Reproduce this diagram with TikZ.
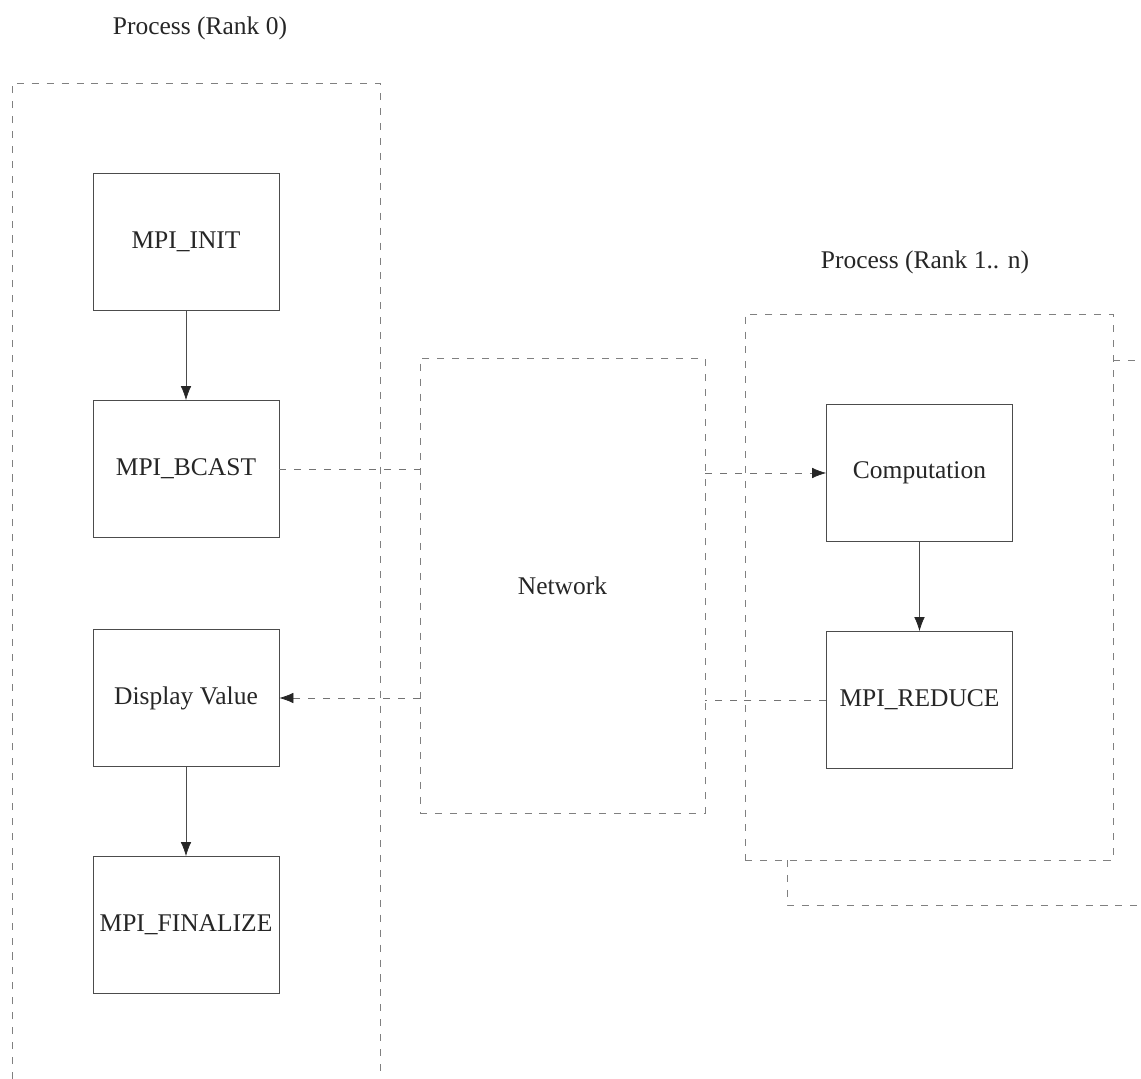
\documentclass[tikz,border=0pt]{standalone}
\usepackage{fontspec}
\setmainfont{Liberation Serif}
\usetikzlibrary{arrows.meta}
\begin{document}
\begin{tikzpicture}[
  font=\fontsize{14.5}{17}\selectfont,
  every node/.style={text=black!85},
  callbox/.style={draw=black!70, thin, fill=white, minimum width=3.72cm, minimum height=2.74cm},
  groupline/.style={draw=black!50, thin, dash pattern=on 4pt off 4.5pt},
  msg/.style={draw=black!55, thin, dash pattern=on 4pt off 4.5pt},
  tip/.style={-{Latex[length=8pt,width=6pt,color=black!85]}},
  flow/.style={draw=black!70, thin, tip}
]
\useasboundingbox (0,0) rectangle (22.82,21.58);
% process of rank 0
\node at (4.0,21.02) {Process (Rank 0)};
\draw[groupline] (0.24,0) -- (0.24,19.92) -- (7.6,19.92) -- (7.6,0);
\node[callbox] (init) at (3.72,16.75) {MPI\_INIT};
\node[callbox] (bcast) at (3.72,12.2) {MPI\_BCAST};
\node[callbox] (show) at (3.72,7.62) {Display Value};
\node[callbox] (final) at (3.72,3.08) {MPI\_FINALIZE};
\draw[flow] (init) -- (bcast);
\draw[flow] (show) -- (final);
% network
\node[groupline, minimum width=5.7cm, minimum height=9.1cm] (net) at (11.25,9.87) {Network};
% processes of rank 1..n
\node at (18.5,16.34) {Process (Rank 1.. n)};
\draw[groupline] (15.74,4.38) -- (15.74,3.48) -- (22.9,3.48);
\draw[groupline] (22.26,14.38) -- (22.9,14.38);
\node[groupline, fill=white, minimum width=7.36cm, minimum height=10.92cm] (rank) at (18.58,9.84) {};
\node[callbox] (comp) at (18.39,12.12) {Computation};
\node[callbox] (reduce) at (18.39,7.58) {MPI\_REDUCE};
\draw[flow] (comp) -- (reduce);
% messages
\draw[msg] (bcast.east) -- (bcast.east -| net.west);
\draw[msg, tip] (comp.west -| net.east) -- (comp.west);
\draw[msg] (reduce.west) -- (reduce.west -| net.east);
\draw[msg, tip] (show.east -| net.west) -- (show.east);
\end{tikzpicture}
\end{document}
